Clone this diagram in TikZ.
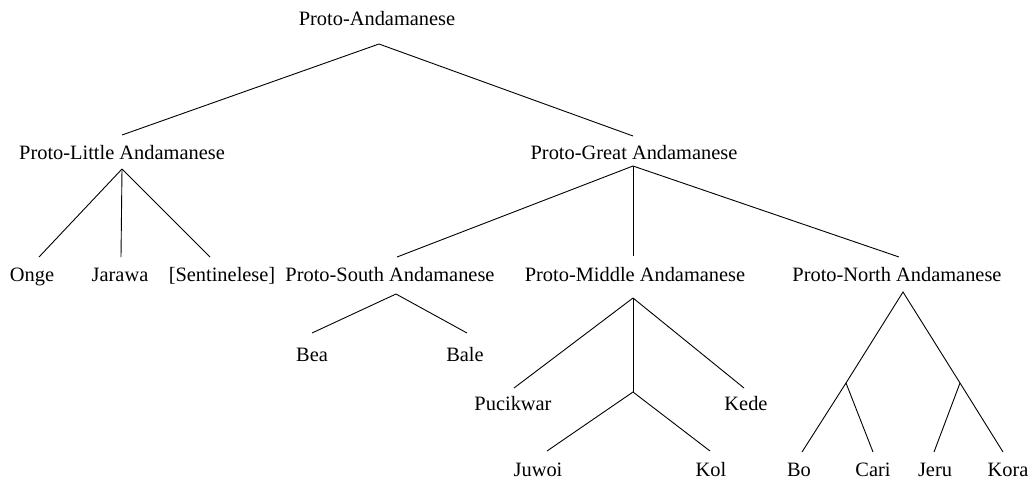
\documentclass[tikz,border=0pt]{standalone}
\usepackage{fontspec}
\setmainfont{Liberation Serif}
\usetikzlibrary{calc}
\tikzset{
  lab/.style={anchor=base, inner sep=0pt, font=\fontsize{20.4}{24}\selectfont},
  branch/.style={draw=black, line width=0.9pt}
}
\begin{document}
\begin{tikzpicture}[x=1pt,y=-1pt]
\useasboundingbox (0,0) rectangle (1030,482);
% nodes
\node[lab] (pa) at (377,25) {Proto-Andamanese};
\node[lab] (pl) at (122,159) {Proto-Little Andamanese};
\node[lab] (pg) at (634,159) {Proto-Great Andamanese};
\node[lab] (onge) at (32,281) {Onge};
\node[lab] (jar) at (120,281) {Jarawa};
\node[lab] (sen) at (222,281) {[Sentinelese]};
\node[lab] (ps) at (390,281) {Proto-South Andamanese};
\node[lab] (pm) at (635,281) {Proto-Middle Andamanese};
\node[lab] (pn) at (897,281) {Proto-North Andamanese};
\node[lab] (bea) at (312,361) {Bea};
\node[lab] (bale) at (465,361) {Bale};
\node[lab] (puc) at (513,410) {Pucikwar};
\node[lab] (kede) at (746,410) {Kede};
\node[lab] (juwoi) at (538,476) {Juwoi};
\node[lab] (kol) at (711,476) {Kol};
\node[lab] (bo) at (799,476) {Bo};
\node[lab] (cari) at (873,476) {Cari};
\node[lab] (jeru) at (935,476) {Jeru};
\node[lab] (kora) at (1008,476) {Kora};
% junctions
\coordinate (jm) at (633,392);
\coordinate (jl) at (846,383);
\coordinate (jr) at (960,383);
% edges
\draw[branch] ($(pl.base)+(0,-24)$) -- ($(pa.base)+(2,19)$) -- ($(pg.base)+(-1,-23)$);
\draw[branch] ($(pl.base)+(0,10)$) -- ($(onge.base)+(7,-24)$);
\draw[branch] ($(pl.base)+(0,10)$) -- ($(jar.base)+(1,-24)$);
\draw[branch] ($(pl.base)+(0,10)$) -- ($(sen.base)+(-12,-24)$);
\draw[branch] ($(pg.base)+(-1,7)$) -- ($(ps.base)+(7,-24)$);
\draw[branch] ($(pg.base)+(-1,7)$) -- ($(pm.base)+(-2,-25)$);
\draw[branch] ($(pg.base)+(-1,7)$) -- ($(pn.base)+(2,-24)$);
\draw[branch] ($(bea.base)+(0,-28)$) -- ($(ps.base)+(6,13)$) -- ($(bale.base)+(2,-28)$);
\draw[branch] ($(pm.base)+(-2,17)$) -- ($(puc.base)+(1,-22)$);
\draw[branch] ($(pm.base)+(-2,17)$) -- ($(kede.base)+(-2,-22)$);
\draw[branch] ($(pm.base)+(-2,17)$) -- (jm);
\draw[branch] ($(juwoi.base)+(9,-25)$) -- (jm) -- ($(kol.base)+(-1,-25)$);
\draw[branch] ($(bo.base)+(3,-24)$) -- (jl) -- ($(pn.base)+(6,11)$) -- (jr) -- ($(kora.base)+(-5,-24)$);
\draw[branch] (jl) -- ($(cari.base)+(0,-24)$);
\draw[branch] (jr) -- ($(jeru.base)+(-1,-24)$);
\end{tikzpicture}
\end{document}
